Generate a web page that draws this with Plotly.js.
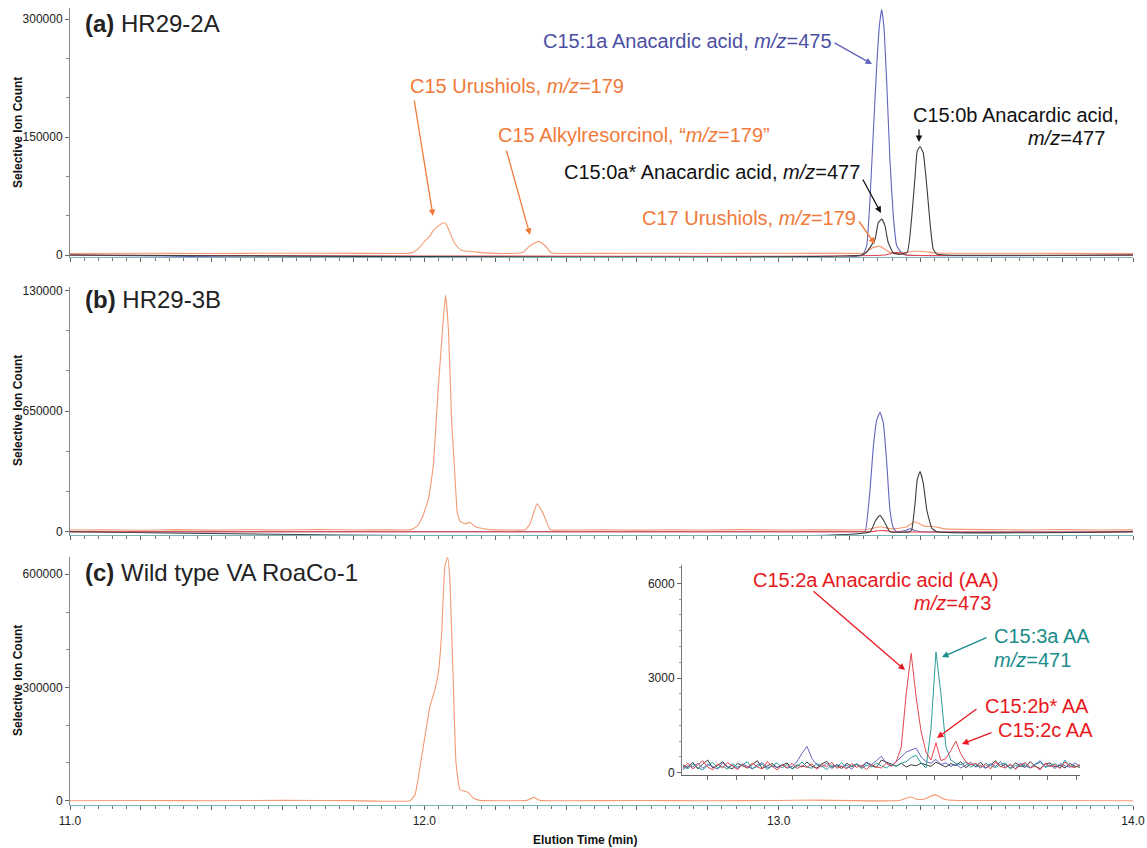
<!DOCTYPE html>
<html>
<head>
<meta charset="utf-8">
<script src="https://cdn.plot.ly/plotly-3.0.1.min.js"></script>
<style>html,body{margin:0;padding:0;background:#fff;}#chart{width:1147px;height:848px;}</style>
</head>
<body>
<div id="chart"></div>
<script>
// ---------------- DATA ----------------
// Panel (a) HR29-2A
const aOrangeT = [11.00,11.20,11.40,11.60,11.80,11.95,11.969,11.985,12.002,12.015,12.025,12.040,12.054,12.062,12.068,12.078,12.087,12.100,12.110,12.157,12.204,12.260,12.279,12.298,12.322,12.341,12.359,12.40,12.60,12.80,13.00,13.20,13.24,13.267,13.286,13.314,13.35,13.385,13.41,13.446,13.60,13.80,14.00];
const aOrangeV = [2000,2200,1900,2300,2100,2000,3400,9000,18000,24000,31000,37000,41000,39000,33000,22000,14000,7500,5400,3400,2100,2200,3400,11800,17300,11800,2500,2000,2300,2000,2200,2100,2500,9700,11000,3400,3000,4700,4500,2500,2200,2100,2000];
const aBlueT = [11.00,13.235,13.2484,13.2578,13.267,13.2767,13.284,13.2907,13.297,13.305,13.314,13.3235,13.333,13.347,13.36,14.00];
const aBlueV = [0,0,12000,71000,155000,240000,290000,312000,290000,218600,121500,49700,12000,2500,0,0];
const aBlackT = [11.00,13.235,13.248,13.272,13.281,13.291,13.300,13.309,13.3235,13.34,13.363,13.375,13.385,13.391,13.399,13.408,13.418,13.428,13.436,13.446,13.47,14.00];
const aBlackV = [0,0,3400,20000,41000,45600,37000,16000,2500,800,3400,45600,100000,132000,138000,130000,87700,37000,7600,1300,0,0];
const aRedT = [11.00,13.30,13.32,13.335,13.35,13.36,14.00];
const aRedV = [0,0,2500,3000,1500,0,0];

// Panel (b) HR29-3B
const bOrangeT = [11.00,11.10,11.20,11.30,11.40,11.50,11.60,11.70,11.80,11.90,11.96,11.98,11.995,12.002,12.012,12.025,12.039,12.054,12.060,12.068,12.077,12.087,12.093,12.101,12.115,12.129,12.143,12.157,12.185,12.25,12.284,12.298,12.318,12.335,12.355,12.40,12.50,12.60,12.70,12.80,12.90,13.00,13.10,13.20,13.25,13.286,13.32,13.36,13.385,13.41,13.44,13.47,13.60,13.70,13.80,13.90,14.00];
const bOrangeV = [9000,10000,8000,11000,8500,10500,9000,12000,9500,10000,10000,30000,80000,118000,180000,351000,763000,1157000,1273000,1085000,602000,279000,102000,55000,43000,50000,28000,20000,11000,9000,10000,40000,150000,100000,12000,9000,10000,8500,10000,9000,11000,9000,10000,9500,12000,27000,15000,25000,54000,30000,27000,15000,11000,9500,11000,9000,10000];
const bBlueT = [11.00,13.23,13.2437,13.2578,13.2672,13.2767,13.286,13.2954,13.305,13.314,13.3235,13.333,13.36,13.371,13.385,13.40,14.00];
const bBlueV = [0,0,0,225000,458000,600000,643000,585000,370000,118000,21000,0,8000,16000,5000,0,0];
const bBlackT = [11.00,13.258,13.272,13.286,13.300,13.314,13.37,13.3755,13.385,13.391,13.399,13.408,13.418,13.432,13.446,14.00];
const bBlackV = [0,0,55000,88000,48000,0,0,10000,154000,279000,324000,262000,118000,20000,0,0];
const bRedT = [11.00,13.26,13.28,13.30,13.32,14.00];
const bRedV = [0,0,5000,6000,0,0];

// Panel (c) Wild type VA RoaCo-1
const cOrangeT = [11.00,11.20,11.40,11.60,11.80,11.9596,11.9737,11.988,12.0019,12.016,12.030,12.0395,12.049,12.058,12.066,12.0724,12.0818,12.0894,12.1007,12.1148,12.124,12.138,12.157,12.270,12.289,12.3095,12.326,12.40,12.60,12.80,13.00,13.10,13.20,13.34,13.371,13.39,13.41,13.441,13.47,13.50,13.70,14.00];
const cOrangeV = [0,500,0,800,300,0,16000,91000,171000,250000,295000,339000,445000,622000,645000,578000,312000,100000,29000,25000,22000,7000,800,0,800,8800,800,0,500,0,600,1500,300,500,10000,4000,4000,16000,3000,1000,500,0];

// Inset (panel c): low-level traces
const insetTime = [12.730,12.744,12.758,12.772,12.786,12.800,12.814,12.828,12.842,12.856,12.870,12.884,12.898,12.912,12.926,12.940,12.954,12.968,12.982,12.996,13.010,13.024,13.038,13.052,13.066,13.080,13.094,13.108,13.122,13.136,13.150,13.164,13.178,13.192,13.206,13.220,13.234,13.248,13.262,13.276,13.290,13.304,13.318,13.332,13.346,13.360,13.374,13.388,13.402,13.416,13.430,13.444,13.458,13.472,13.486,13.500,13.514,13.528,13.542,13.556,13.570,13.584,13.598,13.612,13.626,13.640,13.654,13.668,13.682,13.696,13.710,13.724,13.738,13.752,13.766,13.780,13.794,13.808,13.822,13.836,13.850];
const insetRed = [150,300,120,250,380,180,90,280,150,320,200,100,260,140,310,180,120,350,200,90,240,160,300,130,220,170,280,110,250,190,330,140,210,120,290,170,230,100,260,180,150,300,200,350,800,2500,3780,2400,1300,650,400,950,380,450,700,1000,600,350,250,300,180,260,120,330,200,150,280,110,240,320,160,210,90,300,190,250,130,340,200,160,260];
const insetTeal = [200,120,280,160,90,240,330,150,210,110,290,180,240,350,130,200,270,100,230,310,150,260,120,200,340,180,140,290,210,100,250,180,320,150,220,280,130,240,180,300,220,150,260,200,300,350,480,550,300,150,1400,3830,2500,830,400,300,250,330,180,270,140,300,220,160,260,310,120,230,190,280,140,250,330,170,220,290,150,400,210,180,240];
const insetBlue = [100,220,180,300,140,260,200,110,310,170,240,130,280,190,120,250,320,150,210,170,260,140,200,350,620,830,450,250,180,300,130,260,190,240,110,280,200,330,250,380,520,300,220,350,500,650,720,780,500,350,300,420,260,310,200,280,150,250,330,180,230,140,290,200,350,170,240,120,300,210,160,270,380,190,250,130,290,220,170,310,200];
const insetBlack = [250,160,330,120,280,400,150,230,350,180,120,300,220,150,260,380,140,210,290,160,230,310,120,250,180,340,200,150,280,360,170,240,130,300,190,260,150,320,220,170,400,330,260,210,300,180,250,220,300,260,200,330,250,180,290,220,350,160,270,200,330,150,240,380,190,260,140,310,220,170,350,200,130,270,310,180,240,150,290,210,170];

// Axis ticks
const xTickVals = [11.0,11.2,11.4,11.6,11.8,12.0,12.2,12.4,12.6,12.8,13.0,13.2,13.4,13.6,13.8,14.0];
const xTickText = ["11.0","","","","","12.0","","","","","13.0","","","","","14.0"];
const aYTicks = [0,150000,300000];
const aYText = ["0","150000","300000"];
const bYTicks = [0,650000,1300000];
const bYText = ["0","650000","130000"];
const cYTicks = [0,300000,600000];
const cYText = ["0","300000","600000"];
const insetYTicks = [0,3000,6000];
const insetYText = ["0","3000","6000"];
const insetXTicks = [12.80,12.88,12.96,13.04,13.12,13.20,13.28,13.36,13.44,13.52,13.60,13.68,13.76,13.84];

// ---------------- STYLE / LAYOUT ----------------
const W = 1147, H = 848;
const px = x => x / W;
const py = y => 1 - y / H;
const FONT = "Arial, 'Liberation Sans', sans-serif";
const C = {orange:'#f39a72', blue:'#6265bb', black:'#3c3c3c', red:'#e4454e', teal:'#2a9e9c'};
const T = {orange:'#f07a3a', blue:'#4b4fa3', black:'#111111', red:'#e81820', teal:'#1a8c8a'};

function line(x, y, color, xa, ya, w) {
  return {x: x, y: y, type: 'scatter', mode: 'lines', xaxis: xa, yaxis: ya,
          line: {color: color, width: w || 1.1, shape: 'spline', smoothing: 0.4}, hoverinfo: 'skip'};
}
function nline(x, y, color) {
  return {x: x, y: y, type: 'scatter', mode: 'lines', xaxis: 'x4', yaxis: 'y4',
          line: {color: color, width: 1}, hoverinfo: 'skip'};
}

const data = [
  line(aOrangeT, aOrangeV, C.orange, 'x3', 'y3'),
  line(aBlueT, aBlueV, C.blue, 'x3', 'y3'),
  line(aRedT, aRedV, C.red, 'x3', 'y3'),
  line(aBlackT, aBlackV, C.black, 'x3', 'y3'),
  line(bOrangeT, bOrangeV, C.orange, 'x2', 'y2'),
  line(bBlueT, bBlueV, C.blue, 'x2', 'y2'),
  line(bRedT, bRedV, C.red, 'x2', 'y2'),
  line(bBlackT, bBlackV, C.black, 'x2', 'y2'),
  line(cOrangeT, cOrangeV, C.orange, 'x', 'y'),
  nline(insetTime, insetBlack, C.black),
  nline(insetTime, insetBlue, C.blue),
  nline(insetTime, insetTeal, C.teal),
  nline(insetTime, insetRed, C.red)
];

function xax(anchor, labels) {
  return {
    anchor: anchor, domain: [px(70), px(1133)], range: [11, 14],
    showline: true, linecolor: '#79b4b6', linewidth: 1.2, mirror: false,
    ticks: 'outside', ticklen: 4, tickcolor: '#666', tickwidth: 1,
    tickmode: 'array', tickvals: xTickVals, ticktext: labels ? xTickText : xTickVals.map(() => ''),
    minor: {tick0: 11, dtick: 0.04, ticks: 'outside', ticklen: 3, tickcolor: '#777'},
    showgrid: false, zeroline: false, tickfont: {family: FONT, size: 12, color: '#222'}
  };
}
function yax(anchor, top, bottom, range, vals, text, minorD) {
  return {
    anchor: anchor, domain: [py(bottom), py(top)], range: range,
    showline: true, linecolor: '#888', linewidth: 1,
    ticks: 'outside', ticklen: 4, tickcolor: '#666',
    tickmode: 'array', tickvals: vals, ticktext: text,
    minor: {tick0: 0, dtick: minorD, ticks: 'outside', ticklen: 3, tickcolor: '#888'},
    showgrid: false, zeroline: false, tickfont: {family: FONT, size: 12, color: '#222'}
  };
}

function txt(x, y, text, color, size, anchor) {
  return {xref: 'paper', yref: 'paper', x: px(x), y: py(y), text: text, showarrow: false,
          xanchor: anchor || 'left', yanchor: 'middle',
          font: {family: FONT, size: size || 20, color: color}};
}
function arrow(x0, y0, x1, y1, color) {
  return {xref: 'paper', yref: 'paper', x: px(x1), y: py(y1), ax: x0 - x1, ay: y0 - y1,
          axref: 'pixel', ayref: 'pixel', text: '', showarrow: true,
          arrowhead: 2, arrowsize: 1, arrowwidth: 1.3, arrowcolor: color, standoff: 0, startstandoff: 0};
}
function ytitle(yc) {
  return {xref: 'paper', yref: 'paper', x: px(18), y: py(yc), text: '<b>Selective Ion Count</b>',
          showarrow: false, textangle: -90, xanchor: 'center', yanchor: 'middle',
          font: {family: FONT, size: 12, color: '#111'}};
}

const annotations = [
  txt(83, 24, '<b>(a)</b> HR29-2A', '#222', 24),
  txt(83, 299, '<b>(b)</b> HR29-3B', '#222', 24),
  txt(83, 572, '<b>(c)</b> Wild type VA RoaCo-1', '#222', 24),
  ytitle(133), ytitle(411), ytitle(681),
  {xref: 'paper', yref: 'paper', x: px(585), y: py(840), text: '<b>Elution Time (min)</b>', showarrow: false,
   xanchor: 'center', yanchor: 'middle', font: {family: FONT, size: 12, color: '#111'}},

  txt(408, 86, 'C15 Urushiols, <i>m/z</i>=179', T.orange),
  arrow(414, 99, 433, 216, T.orange),
  txt(496, 135, 'C15 Alkylresorcinol, “<i>m/z</i>=179”', T.orange),
  arrow(506, 149, 530, 235, T.orange),
  txt(541, 41, 'C15:1a Anacardic acid, <i>m/z</i>=475', T.blue),
  arrow(833, 42, 872, 64, C.blue),
  txt(911, 115, 'C15:0b Anacardic acid,', T.black),
  txt(1107, 138, '<i>m/z</i>=477', T.black, 20, 'right'),
  arrow(919, 128, 919, 142, T.black),
  txt(562, 172, 'C15:0a* Anacardic acid, <i>m/z</i>=477', T.black),
  arrow(862, 178, 881, 213, T.black),
  txt(640, 218, 'C17 Urushiols, <i>m/z</i>=179', T.orange),
  arrow(858, 220, 875, 244, T.orange),

  txt(751, 580, 'C15:2a Anacardic acid (AA)', T.red),
  txt(993, 603, '<i>m/z</i>=473', T.red, 20, 'right'),
  arrow(812, 590, 905, 670, T.red),
  txt(992, 636, 'C15:3a AA', T.teal),
  txt(992, 660, '<i>m/z</i>=471', T.teal),
  arrow(988, 637, 942, 657, T.teal),
  txt(983, 706, 'C15:2b* AA', T.red),
  arrow(978, 708, 937, 738, T.red),
  txt(996, 730, 'C15:2c AA', T.red),
  arrow(993, 732, 962, 744, T.red)
];

const layout = {
  width: W, height: H, margin: {l: 0, r: 0, t: 0, b: 0},
  paper_bgcolor: '#fff', plot_bgcolor: 'rgba(0,0,0,0)', showlegend: false,
  font: {family: FONT},
  xaxis: xax('y', true),
  xaxis2: xax('y2', false),
  xaxis3: xax('y3', false),
  yaxis: yax('x', 557, 805, [-11380, 645800], cYTicks, cYText, 100000),
  yaxis2: yax('x2', 287, 535, [-17750, 1317750], bYTicks, bYText, 1300000 / 6),
  yaxis3: yax('x3', 8, 257, [-2542, 313983], aYTicks, aYText, 50000),
  xaxis4: {
    anchor: 'y4', domain: [px(682), px(1080)], range: [12.7274, 13.8504],
    showline: true, linecolor: '#666', linewidth: 1,
    ticks: 'outside', ticklen: 4, tickcolor: '#666', tickmode: 'array', tickvals: insetXTicks,
    ticktext: insetXTicks.map(() => ''), showgrid: false, zeroline: false
  },
  yaxis4: {
    anchor: 'x4', domain: [py(775), py(565)], range: [-73, 6580],
    showline: true, linecolor: '#777', linewidth: 1,
    ticks: 'outside', ticklen: 4, tickcolor: '#666', tickmode: 'array', tickvals: insetYTicks, ticktext: insetYText,
    minor: {tick0: 0, dtick: 500, ticks: 'outside', ticklen: 2, tickcolor: '#999'},
    showgrid: false, zeroline: false, tickfont: {family: FONT, size: 12, color: '#222'}
  },
  annotations: annotations
};

Plotly.newPlot('chart', data, layout, {displayModeBar: false, staticPlot: true});
</script>
</body>
</html>
